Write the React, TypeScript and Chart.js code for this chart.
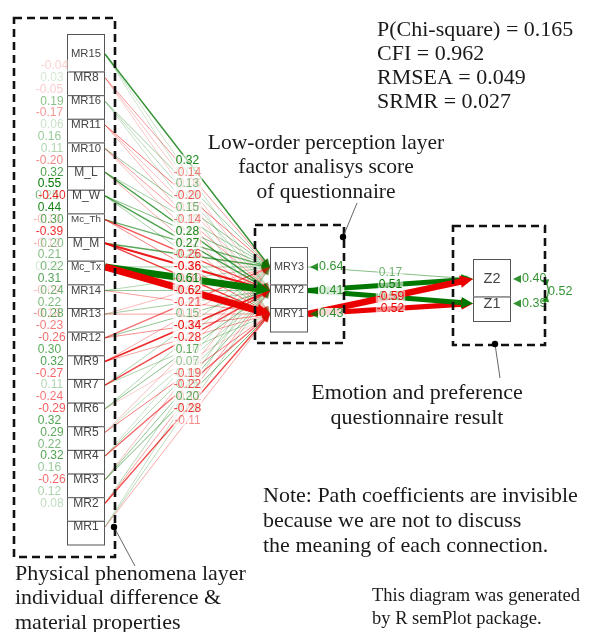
import React, { useEffect, useRef } from 'react';
import { Chart, registerables } from 'chart.js';

Chart.register(...registerables);

// ---------------- data ----------------
const observedNodes = ['MR15', 'MR8', 'MR16', 'MR11', 'MR10', 'M_L', 'M_W', 'Mc_Th', 'M_M', 'Mc_Tx', 'MR14', 'MR13', 'MR12', 'MR9', 'MR7', 'MR6', 'MR5', 'MR4', 'MR3', 'MR2', 'MR1'];
const factorNodes = ['MRY3', 'MRY2', 'MRY1'];
const outcomeNodes = ['Z2', 'Z1'];

// path coefficients observed -> low-order factors (one value per observed node)
const loadMRY3 = [0.32, -0.14, 0.13, -0.2, 0.15, 0.12, 0.18, 0.22, 0.25, 0.12, 0.09, -0.08, -0.21, -0.1, 0.1, 0.09, -0.07, 0.05, -0.08, 0.09, 0.06];
const loadMRY2 = [0.05, -0.06, 0.08, -0.07, -0.14, 0.28, 0.27, -0.26, -0.36, 0.61, 0.14, 0.12, 0.15, -0.34, -0.28, 0.17, 0.07, 0.1, 0.15, -0.12, 0.08];
const loadMRY1 = [0.04, -0.05, 0.06, -0.09, -0.08, -0.1, 0.11, -0.18, -0.3, -0.62, -0.13, -0.12, -0.16, -0.12, 0.1, -0.04, -0.19, -0.22, 0.2, -0.28, -0.11];

// factors (MRY3, MRY2, MRY1) -> outcomes
const pathToZ2 = [0.17, 0.51, -0.59];
const pathToZ1 = [null, 0.52, -0.52];

const factorResiduals = [0.64, 0.41, 0.43];
const outcomeResiduals = [0.4, 0.39];
const outcomeCovariance = 0.52;

// covariances among observed nodes: [node i, node j, value]
const observedCov: [number, number, number][] = [
  [0, 1, -0.04], [0, 2, 0.03], [0, 3, -0.05], [1, 3, 0.19], [1, 4, -0.17], [2, 4, 0.06], [2, 5, 0.16],
  [3, 5, 0.11], [3, 6, -0.2], [4, 6, 0.32], [4, 7, 0.55], [4, 8, 0.25], [5, 7, -0.4], [5, 8, 0.44],
  [5, 9, -0.1], [6, 8, 0.3], [6, 9, -0.39], [6, 10, -0.12], [7, 9, 0.2], [7, 10, 0.21], [7, 11, 0.04],
  [8, 10, 0.22], [8, 11, 0.31], [8, 12, -0.09], [9, 11, 0.24], [9, 12, 0.22], [9, 13, -0.18],
  [10, 12, 0.28], [10, 13, -0.23], [11, 13, -0.26], [11, 14, 0.3], [12, 14, 0.32], [12, 15, -0.27],
  [13, 15, 0.11], [13, 16, -0.24], [14, 16, -0.29], [14, 17, 0.32], [15, 17, 0.29], [15, 18, 0.22],
  [16, 18, 0.32], [16, 19, 0.16], [17, 19, -0.26], [17, 20, 0.12], [18, 20, 0.08],
];

const fitNames = ['P(Chi-square)', 'CFI', 'RMSEA', 'SRMR'];
const fitValues = ['0.165', '0.962', '0.049', '0.027'];

const obsLayerText = ['Physical phenomena layer', 'individual difference &', 'material properties'];
const facLayerText = ['Low-order perception layer', 'factor analisys score', 'of questionnaire'];
const outLayerText = ['Emotion and preference', 'questionnaire result'];
const noteText = ['Note: Path coefficients are invisible', 'because we are not to discuss', 'the meaning of each connection.'];
const creditText = ['This diagram was generated', 'by R semPlot package.'];

// ---------------- helpers ----------------
const SERIF = '"Liberation Serif", "Times New Roman", serif';
const SANS = '"Liberation Sans", Arial, sans-serif';

function edgeAlpha(w: number) {
  return Math.min(1, 0.1 + Math.abs(w) * 2.2);
}
function edgeColor(w: number, alpha?: number) {
  const a = alpha ?? edgeAlpha(w);
  return w >= 0 ? `rgba(0,120,0,${a})` : `rgba(235,0,0,${a})`;
}
function edgeWidth(w: number) {
  const a = Math.abs(w);
  if (a > 0.3) return 1 + (a - 0.3) * 19;
  return a > 0.2 ? 1.4 : 1;
}

export default function App() {
  const ref = useRef<HTMLCanvasElement>(null);

  useEffect(() => {
    const canvas = ref.current!;
    // layout (pixel-like units on the hidden linear scales)
    const obsX = [67, 105];
    const facX = [270, 308];
    const outX = [473, 511];
    const obsY = (i: number) => 54 + 23.65 * i;
    const facY = (j: number) => 267 + 23.5 * j;
    const outY = (k: number) => 279 + 24.5 * k;

    type Edge = { x1: number; y1: number; x2: number; y2: number; w: number };
    const edges: Edge[] = [];
    const loads = [loadMRY3, loadMRY2, loadMRY1];
    observedNodes.forEach((_, i) =>
      loads.forEach((arr, j) => edges.push({ x1: obsX[1], y1: obsY(i), x2: facX[0], y2: facY(j), w: arr[i] }))
    );
    factorNodes.forEach((_, j) => {
      [pathToZ2, pathToZ1].forEach((arr, k) => {
        const v = arr[j];
        if (v != null) edges.push({ x1: facX[1], y1: facY(j), x2: outX[0], y2: outY(k), w: v });
      });
    });
    // strongest first -> drawn on top (Chart.js draws dataset 0 last)
    const sorted = [...edges].sort((a, b) => Math.abs(b.w) - Math.abs(a.w));
    const arrowLen = (w: number) => 7 + edgeWidth(w) * 0.9;

    const datasets = sorted.map((e) => {
      const dx = e.x2 - e.x1, dy = e.y2 - e.y1;
      const len = Math.hypot(dx, dy);
      const s = (arrowLen(e.w) * 0.8) / len;
      return {
        data: [
          { x: e.x1, y: e.y1 },
          { x: e.x2 - dx * s, y: e.y2 - dy * s },
        ],
        showLine: true,
        borderColor: edgeColor(e.w),
        backgroundColor: edgeColor(e.w),
        borderWidth: edgeWidth(e.w),
        pointRadius: 0,
        pointHoverRadius: 0,
        borderCapStyle: 'butt' as const,
      };
    });

    const label = (ctx: CanvasRenderingContext2D, text: string, x: number, y: number, color: string, bg: string | null, font = `11px ${SANS}`, align: CanvasTextAlign = 'center') => {
      ctx.font = font;
      const tw = ctx.measureText(text).width;
      const lx = align === 'center' ? x - tw / 2 : x;
      if (bg) {
        ctx.fillStyle = bg;
        ctx.fillRect(lx - 1, y - 6, tw + 2, 12);
      }
      ctx.fillStyle = color;
      ctx.textAlign = 'left';
      ctx.textBaseline = 'middle';
      ctx.fillText(text, lx, y);
    };

    const tri = (ctx: CanvasRenderingContext2D, tx: number, ty: number, ux: number, uy: number, L: number, hw: number, color: string) => {
      const bx = tx - ux * L, by = ty - uy * L;
      ctx.fillStyle = color;
      ctx.beginPath();
      ctx.moveTo(tx, ty);
      ctx.lineTo(bx - uy * hw, by + ux * hw);
      ctx.lineTo(bx + uy * hw, by - ux * hw);
      ctx.closePath();
      ctx.fill();
    };

    const decor = {
      id: 'semDecor',
      afterDatasetsDraw(chart: any) {
        const ctx: CanvasRenderingContext2D = chart.ctx;
        const sx = chart.scales.x, sy = chart.scales.y;
        const px = (v: number) => sx.getPixelForValue(v);
        const py = (v: number) => sy.getPixelForValue(v);
        ctx.save();

        // arrowheads (weak first)
        for (let idx = sorted.length - 1; idx >= 0; idx--) {
          const e = sorted[idx];
          const meta = chart.getDatasetMeta(idx);
          const p0 = meta.data[0];
          const tx = px(e.x2), ty = py(e.y2);
          const dx = tx - p0.x, dy = ty - p0.y, len = Math.hypot(dx, dy);
          const lw = edgeWidth(e.w);
          tri(ctx, tx, ty, dx / len, dy / len, arrowLen(e.w), 3 + lw * 0.5, edgeColor(e.w));
        }

        // node boxes
        const stack = (names: string[], x0: number, x1: number, yc: (i: number) => number, maxFont: number) => {
          const l = px(x0), r = px(x1);
          let top = py(yc(0) - 20);
          names.forEach((n, i) => {
            const bottom = py(yc(i) + 17.5);
            ctx.fillStyle = '#fff';
            ctx.fillRect(l, top, r - l, bottom - top);
            ctx.strokeStyle = '#555';
            ctx.lineWidth = 1;
            ctx.setLineDash([]);
            ctx.strokeRect(l + 0.5, top + 0.5, r - l - 1, bottom - top);
            ctx.font = `10px ${SANS}`;
            const w10 = ctx.measureText(n).width / 10;
            const fs = Math.min(maxFont, (r - l - 8) / w10);
            ctx.font = `${fs}px ${SANS}`;
            ctx.fillStyle = '#444';
            ctx.textAlign = 'center';
            ctx.textBaseline = 'middle';
            ctx.fillText(n, (l + r) / 2, py(yc(i)));
            top = bottom;
          });
        };
        stack(observedNodes, obsX[0], obsX[1], obsY, 12);
        stack(factorNodes, facX[0], facX[1], facY, 12);
        stack(outcomeNodes, outX[0], outX[1], outY, 14.5);

        // edge labels (weak first)
        for (let idx = sorted.length - 1; idx >= 0; idx--) {
          const e = sorted[idx];
          const mx = px((e.x1 + e.x2) / 2), my = py((e.y1 + e.y2) / 2);
          label(ctx, e.w.toFixed(2), mx, my, edgeColor(e.w, Math.min(1, edgeAlpha(e.w) + 0.1)), 'rgba(255,255,255,0.55)', `12px ${SANS}`);
        }

        // observed covariance labels
        [...observedCov]
          .sort((a, b) => Math.abs(a[2]) - Math.abs(b[2]))
          .forEach(([i, j, v]) => {
            const x = px(57 - 2.5 * (j - i));
            const y = py((obsY(i) + obsY(j)) / 2);
            label(ctx, v.toFixed(2), x, y, edgeColor(v, Math.min(1, 0.12 + Math.abs(v) * 1.8)), 'rgba(255,255,255,0.45)', `12px ${SANS}`);
          });

        // residuals
        const resid = (xr: number, yv: number, v: number) => {
          const x = px(xr), y = py(yv);
          const c = edgeColor(v, 0.8);
          tri(ctx, x + 2, y, -1, 0, 8, 4, c);
          label(ctx, v.toFixed(2), x + 11, y, c, 'rgba(255,255,255,0.85)', `12.5px ${SANS}`, 'left');
        };
        factorResiduals.forEach((v, j) => resid(facX[1], facY(j), v));
        outcomeResiduals.forEach((v, k) => resid(outX[1], outY(k), v));
        // outcome covariance
        {
          const c = edgeColor(outcomeCovariance, 0.8);
          const xr = px(outX[1] + 31);
          ctx.strokeStyle = c;
          ctx.lineWidth = 1.2;
          ctx.beginPath();
          ctx.moveTo(xr + 3, py(outY(0)) + 2);
          ctx.quadraticCurveTo(xr + 10, py((outY(0) + outY(1)) / 2), xr + 3, py(outY(1)) - 3);
          ctx.stroke();
          tri(ctx, xr - 1, py(outY(0)) + 1, -0.9, -0.3, 8, 3.5, c);
          tri(ctx, xr - 1, py(outY(1)) - 2, -0.9, 0.3, 8, 3.5, c);
          label(ctx, outcomeCovariance.toFixed(2), xr + 6, py((outY(0) + outY(1)) / 2), c, null, `12.5px ${SANS}`, 'left');
        }

        // dashed layer boxes
        ctx.strokeStyle = '#111';
        ctx.lineWidth = 2.6;
        ctx.setLineDash([8, 5]);
        const dbox = (x0: number, y0: number, x1: number, y1: number) => {
          ctx.strokeRect(px(x0), py(y0), px(x1) - px(x0), py(y1) - py(y0));
        };
        dbox(14, 18, 115, 557);
        dbox(255, 225, 344, 343);
        dbox(453, 226, 545, 345);
        ctx.setLineDash([]);

        // pointer lines + dots
        const pointer = (x0: number, y0: number, x1: number, y1: number) => {
          ctx.strokeStyle = '#555';
          ctx.lineWidth = 0.9;
          ctx.beginPath();
          ctx.moveTo(px(x0), py(y0));
          ctx.lineTo(px(x1), py(y1));
          ctx.stroke();
          ctx.fillStyle = '#000';
          ctx.beginPath();
          ctx.arc(px(x0), py(y0), 3.2, 0, Math.PI * 2);
          ctx.fill();
        };
        pointer(114, 527, 135, 566);
        pointer(343, 237, 357, 203);
        pointer(495, 344, 500, 378);

        // texts
        const lines = (arr: string[], x: number, y0: number, dy: number, size: number, align: CanvasTextAlign) => {
          ctx.font = `${size}px ${SERIF}`;
          ctx.fillStyle = '#1a1a1a';
          ctx.textAlign = align;
          ctx.textBaseline = 'middle';
          arr.forEach((t, i) => ctx.fillText(t, px(x), py(y0 + i * dy)));
        };
        lines(fitNames.map((n, i) => `${n} = ${fitValues[i]}`), 377, 30, 24, 22, 'left');
        lines(facLayerText, 326, 143, 24.5, 21.5, 'center');
        lines(outLayerText, 417, 393, 25, 22, 'center');
        lines(noteText, 263, 496, 25, 22, 'left');
        lines(creditText, 372, 596, 23, 18.5, 'left');
        lines(obsLayerText, 15, 574, 24.5, 22, 'left');

        ctx.restore();
      },
    };

    const chart = new Chart(canvas, {
      type: 'scatter',
      data: { datasets: datasets as any },
      options: {
        animation: false,
        responsive: false,
        devicePixelRatio: 1,
        layout: { padding: 0 },
        events: [],
        scales: {
          x: { type: 'linear', min: 0, max: 593, display: false },
          y: { type: 'linear', min: 0, max: 632, reverse: true, display: false },
        },
        plugins: { legend: { display: false }, tooltip: { enabled: false } },
      },
      plugins: [decor],
    });
    return () => chart.destroy();
  }, []);

  return (
    <div style={{ position: 'fixed', left: 0, top: 0, width: 593, height: 632, background: '#fff' }}>
      <canvas ref={ref} width={593} height={632} style={{ display: 'block' }} />
    </div>
  );
}
